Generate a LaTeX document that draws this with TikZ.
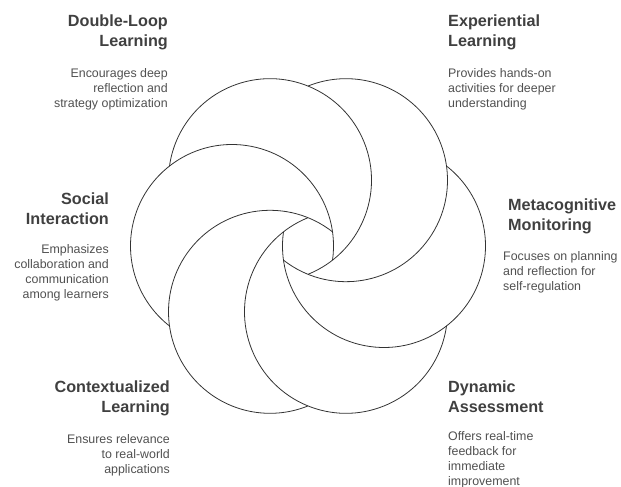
\documentclass[tikz,border=0pt]{standalone}
\usepackage{fontspec}
\setmainfont{Liberation Sans}
\usetikzlibrary{calc}
\definecolor{ink}{HTML}{333333}
\definecolor{headtxt}{HTML}{404040}
\definecolor{desctxt}{HTML}{505050}

\begin{document}
\begin{tikzpicture}[x=1pt,y=1pt,
  petal/.style={draw=ink,line width=0.8pt},
  head/.style={inner sep=0pt,text=headtxt,font=\fontsize{16.2}{20}\selectfont\bfseries},
  desc/.style={inner sep=0pt,text=desctxt,font=\fontsize{12.4}{15}\selectfont},
]
  \useasboundingbox (0,0) rectangle (621,487);
  \coordinate (O) at (308,241);
  % six circles round O, a third of each hidden under the next one
  \foreach \a in {0,60,...,300}{
    \coordinate (c\a) at ($(O)+(\a:76)$);
    \draw[petal] ($(c\a)+(\a+172:101.5)$) arc[start angle=\a+172,end angle=\a+412,radius=101.5];
  }

  \node[head,anchor=north east,align=right] (dl) at (168,472) {Double-Loop\\Learning};
  \node[desc,anchor=north east,align=right] (dltxt) at (168,419) {Encourages deep\\reflection and\\strategy optimization};

  \node[head,anchor=north west,align=left] (el) at (448,472) {Experiential\\Learning};
  \node[desc,anchor=north west,align=left] (eltxt) at (448,419) {Provides hands-on\\activities for deeper\\understanding};

  \node[head,anchor=north east,align=right] (si) at (109,294) {Social\\Interaction};
  \node[desc,anchor=north east,align=right] (sitxt) at (109,243) {Emphasizes\\collaboration and\\communication\\among learners};

  \node[head,anchor=north west,align=left] (mm) at (508,288) {Metacognitive\\Monitoring};
  \node[desc,anchor=north west,align=left] (mmtxt) at (503,236) {Focuses on planning\\and reflection for\\self-regulation};

  \node[head,anchor=north east,align=right] (cl) at (170,106) {Contextualized\\Learning};
  \node[desc,anchor=north east,align=right] (cltxt) at (170,53) {Ensures relevance\\to real-world\\applications};

  \node[head,anchor=north west,align=left] (da) at (448,106) {Dynamic\\Assessment};
  \node[desc,anchor=north west,align=left] (datxt) at (448,56) {Offers real-time\\feedback for\\immediate\\improvement};
\end{tikzpicture}
\end{document}
